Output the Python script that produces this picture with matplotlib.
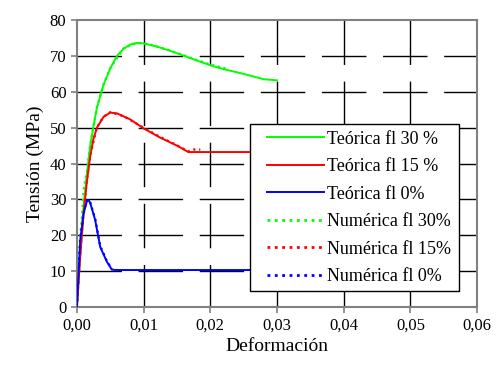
import matplotlib
matplotlib.use("Agg")
import matplotlib.pyplot as plt
from matplotlib.patches import Rectangle
from matplotlib.ticker import FuncFormatter

plt.rcParams["font.family"] = ["Liberation Serif", "DejaVu Serif"]

# ---------------------------
# Data
# ---------------------------
eps_t30 = [0, 0.0005, 0.001, 0.0015, 0.002, 0.0025, 0.003, 0.004, 0.005, 0.006,
           0.007, 0.008, 0.009, 0.010, 0.012, 0.014, 0.016, 0.018, 0.020,
           0.022, 0.025, 0.028, 0.030]
sig_t30 = [0, 15, 28, 37, 45, 50.5, 55.5, 62, 66.5, 70, 72, 73.2, 73.6, 73.5,
           72.6, 71.4, 70.1, 68.7, 67.4, 66.3, 65.0, 63.5, 63.2]

eps_t15 = [0, 0.0005, 0.001, 0.0015, 0.002, 0.0025, 0.003, 0.0035, 0.004,
           0.005, 0.006, 0.008, 0.010, 0.0125, 0.015, 0.0167, 0.020, 0.025, 0.030]
sig_t15 = [0, 14, 26, 35, 42, 47, 50, 51.5, 53, 54.2, 54, 52.3, 49.8, 47.2,
           45.0, 43.2, 43.2, 43.2, 43.2]

eps_t0 = [0, 0.00025, 0.0005, 0.001, 0.0015, 0.00175, 0.002, 0.00275,
          0.0035, 0.0045, 0.00525, 0.006, 0.010, 0.020, 0.030]
sig_t0 = [0, 9.3, 18.6, 26, 29.5, 29.8, 29.0, 24.2, 16.7, 12.6, 10.4, 10.3,
          10.3, 10.3, 10.3]

eps_n30 = [0, 0.0005, 0.00075, 0.001, 0.00125, 0.0015, 0.002, 0.003, 0.004,
           0.005, 0.007, 0.009, 0.011, 0.014, 0.017, 0.020, 0.0225]
sig_n30 = [0, 20, 24.7, 32.6, 35.3, 37.5, 45.2, 55.7, 62.1, 66.6, 72.1, 73.7,
           73.2, 71.5, 69.5, 67.6, 66.4]

eps_n15 = [0, 0.0005, 0.001, 0.0015, 0.002, 0.003, 0.004, 0.005, 0.007,
           0.010, 0.0125, 0.015, 0.0167, 0.0175, 0.0185]
sig_n15 = [0, 15, 26.5, 35.5, 42.2, 50.1, 53.1, 54.3, 53.2, 50.0, 47.4, 45.1,
           43.4, 43.9, 43.9]

eps_n0 = [0, 0.00025, 0.0005, 0.001, 0.0015, 0.00175, 0.002, 0.00275,
          0.0035, 0.0045, 0.00525]
sig_n0 = [0, 9.8, 18.9, 26.3, 29.7, 29.9, 29.2, 24.5, 17.0, 12.8, 10.5]

x_ticks = [0, 0.01, 0.02, 0.03, 0.04, 0.05, 0.06]
y_ticks = [0, 10, 20, 30, 40, 50, 60, 70, 80]

labels = ["Teórica fl 30 %", "Teórica fl 15 %", "Teórica fl 0%",
          "Numérica fl 30%", "Numérica fl 15%", "Numérica fl 0%"]

# ---------------------------
# Plot
# ---------------------------
fig = plt.figure(figsize=(4.96, 3.65), dpi=100)
ax = fig.add_axes([0.155, 0.159, 0.807, 0.786])

dash = (0, (32, 12))
ax.hlines(y_ticks[1:-1], 0, 0.06, colors="black", linewidth=1, linestyles=[dash], zorder=1)
ax.vlines(x_ticks[1:-1], 80, 0, colors="black", linewidth=1, linestyles=[dash], zorder=1)

ax.plot(eps_n30, sig_n30, color="#00ff00", linestyle=":", linewidth=1.6, zorder=2)
ax.plot(eps_n15, sig_n15, color="#ff0000", linestyle=":", linewidth=1.6, zorder=2)
ax.plot(eps_n0, sig_n0, color="#0000ff", linestyle=":", linewidth=1.6, zorder=2)

l1, = ax.plot(eps_t30, sig_t30, color="#00ff00", linewidth=1.4, zorder=3)
l2, = ax.plot(eps_t15, sig_t15, color="#ff0000", linewidth=1.4, zorder=3)
l3, = ax.plot(eps_t0, sig_t0, color="#0000ff", linewidth=1.4, zorder=3)

# legend handles (dotted)
n1, = ax.plot([], [], color="#00ff00", linestyle=":", linewidth=2)
n2, = ax.plot([], [], color="#ff0000", linestyle=":", linewidth=2)
n3, = ax.plot([], [], color="#0000ff", linestyle=":", linewidth=2)

ax.set_xlim(0, 0.06)
ax.set_ylim(0, 80)
ax.set_xticks(x_ticks)
ax.set_yticks(y_ticks)
ax.xaxis.set_major_formatter(FuncFormatter(lambda v, p: f"{v:.2f}".replace(".", ",")))
ax.tick_params(direction="out", length=4, width=1.2, color="#808080", labelsize=12)

for s in ax.spines.values():
    s.set_color("#808080")
    s.set_linewidth(1.5)

ax.set_xlabel("Deformación", fontsize=14, labelpad=3)
ax.set_ylabel("Tensión (MPa)", fontsize=14, labelpad=4)

# legend box drawn by hand, entries placed inside it
box = Rectangle((0.4325, 0.056), 0.5225, 0.582, transform=ax.transAxes,
                facecolor="white", edgecolor="black", linewidth=1, zorder=5)
ax.add_patch(box)
leg = ax.legend([l1, l2, l3, n1, n2, n3], labels,
                loc="upper left", bbox_to_anchor=(0.475, 0.614),
                fontsize=13, handlelength=3.15, handletextpad=0.2,
                labelspacing=0.58, borderpad=0, borderaxespad=0,
                frameon=False)
leg.set_zorder(6)

plt.savefig("out.png", dpi=100)
